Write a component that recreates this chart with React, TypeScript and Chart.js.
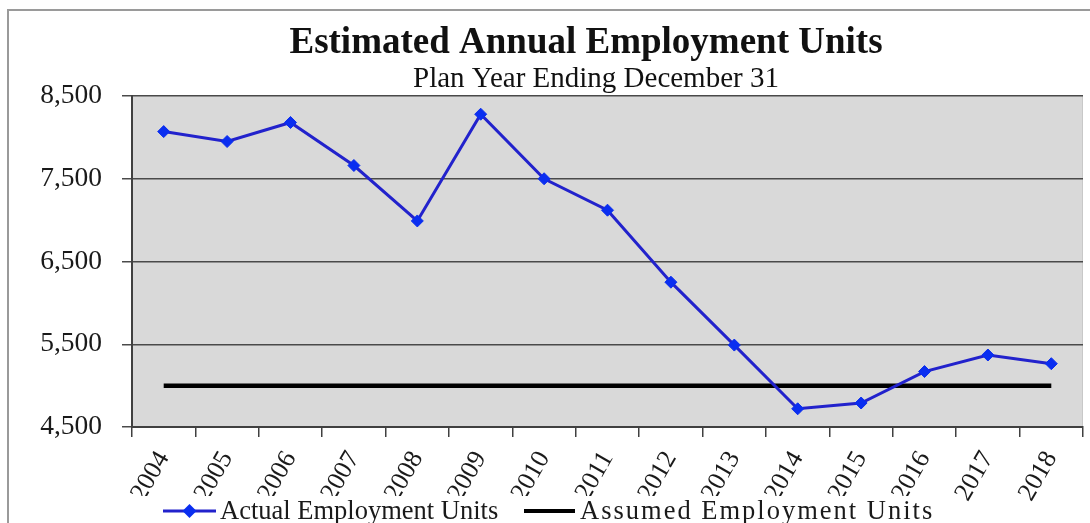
import React, { useEffect, useRef } from "react";
import { Chart, registerables } from "chart.js";

Chart.register(...registerables);

const years = ["2004", "2005", "2006", "2007", "2008", "2009", "2010", "2011", "2012", "2013", "2014", "2015", "2016", "2017", "2018"];
const actualUnits = [8070, 7950, 8180, 7660, 6990, 8280, 7500, 7120, 6250, 5490, 4720, 4790, 5170, 5370, 5265];
const assumedUnits = [5000, 5000, 5000, 5000, 5000, 5000, 5000, 5000, 5000, 5000, 5000, 5000, 5000, 5000, 5000];
const yTicks = [4500, 5500, 6500, 7500, 8500];
const chartTitle = "Estimated Annual Employment Units";
const chartSubtitle = "Plan Year Ending December 31";
const seriesNames = ["Actual Employment Units", "Assumed Employment Units"];

const SERIF = '"Liberation Serif", "Times New Roman", serif';
const BLUE_LINE = "#2222cc";
const BLUE_MARK = "#0a2ef0";

export default function App() {
  const ref = useRef<HTMLCanvasElement | null>(null);

  useEffect(() => {
    document.body.style.margin = "0";
    const canvas = ref.current;
    if (!canvas) return;

    const decor = {
      id: "decor",
      beforeDraw(chart: any) {
        const { ctx, chartArea } = chart;
        ctx.save();
        ctx.fillStyle = "#ffffff";
        ctx.fillRect(0, 0, chart.width, chart.height);
        ctx.fillStyle = "#d9d9d9";
        ctx.fillRect(chartArea.left, chartArea.top, chartArea.right - chartArea.left, chartArea.bottom - chartArea.top);
        ctx.strokeStyle = "#c8c8c8";
        ctx.lineWidth = 1;
        ctx.beginPath();
        ctx.moveTo(chartArea.right - 0.5, chartArea.top);
        ctx.lineTo(chartArea.right - 0.5, chartArea.bottom);
        ctx.stroke();
        ctx.restore();
      },
      afterDraw(chart: any) {
        const { ctx } = chart;
        ctx.save();
        // outer frame
        ctx.strokeStyle = "#9a9a9a";
        ctx.lineWidth = 2;
        ctx.beginPath();
        ctx.moveTo(8, chart.height);
        ctx.lineTo(8, 10);
        ctx.lineTo(chart.width, 10);
        ctx.stroke();
        // title
        ctx.fillStyle = "#111111";
        ctx.textAlign = "center";
        ctx.textBaseline = "alphabetic";
        ctx.font = `bold 37px ${SERIF}`;
        ctx.fillText(chartTitle, 586, 53);
        ctx.font = `29px ${SERIF}`;
        ctx.fillText(chartSubtitle, 596, 87);
        // legend
        ctx.fillStyle = "#ffffff";
        ctx.fillRect(95, 496, 862, 30);
        const ly = 511;
        ctx.strokeStyle = BLUE_LINE;
        ctx.lineWidth = 3;
        ctx.beginPath();
        ctx.moveTo(163, ly);
        ctx.lineTo(216, ly);
        ctx.stroke();
        ctx.fillStyle = BLUE_MARK;
        ctx.beginPath();
        ctx.moveTo(189.5, ly - 7);
        ctx.lineTo(196.5, ly);
        ctx.lineTo(189.5, ly + 7);
        ctx.lineTo(182.5, ly);
        ctx.closePath();
        ctx.fill();
        ctx.strokeStyle = "#000000";
        ctx.lineWidth = 4;
        ctx.beginPath();
        ctx.moveTo(524, ly);
        ctx.lineTo(575, ly);
        ctx.stroke();
        ctx.fillStyle = "#1a1a1a";
        ctx.textAlign = "left";
        ctx.textBaseline = "middle";
        ctx.font = `26.5px ${SERIF}`;
        ctx.fillText(seriesNames[0], 220, ly + 1);
        (ctx as any).letterSpacing = "2px";
        ctx.fillText(seriesNames[1], 580, ly + 1);
        (ctx as any).letterSpacing = "0px";
        ctx.restore();
      },
    };

    const chart = new Chart(canvas, {
      type: "line",
      data: {
        labels: years,
        datasets: [
          {
            label: seriesNames[0],
            data: actualUnits,
            borderColor: BLUE_LINE,
            backgroundColor: BLUE_MARK,
            borderWidth: 3,
            pointStyle: "rectRot",
            pointRadius: 6,
            pointBackgroundColor: BLUE_MARK,
            pointBorderColor: BLUE_MARK,
            pointBorderWidth: 1,
            tension: 0,
            order: 0,
          },
          {
            label: seriesNames[1],
            data: assumedUnits,
            borderColor: "#000000",
            backgroundColor: "#000000",
            borderWidth: 4.5,
            pointRadius: 0,
            tension: 0,
            order: 1,
          },
        ],
      },
      options: {
        animation: false,
        responsive: true,
        maintainAspectRatio: false,
        layout: { padding: { top: 96, right: 5, left: 0, bottom: 0 } },
        plugins: {
          legend: { display: false },
          title: { display: false },
          tooltip: { enabled: false },
        },
        scales: {
          x: {
            type: "category",
            offset: true,
            afterFit: (scale: any) => {
              scale.height = 96;
            },
            grid: {
              display: true,
              drawOnChartArea: false,
              drawTicks: true,
              tickLength: 10,
              color: "#404040",
              lineWidth: 1.5,
              offset: true,
            },
            border: { display: true, color: "#404040", width: 2 },
            ticks: {
              autoSkip: false,
              minRotation: 60,
              maxRotation: 60,
              padding: 9,
              color: "#1a1a1a",
              font: { family: SERIF, size: 26 },
            },
          },
          y: {
            type: "linear",
            min: 4500,
            max: 8500,
            afterBuildTicks: (scale: any) => {
              scale.ticks = yTicks.map((v) => ({ value: v }));
            },
            afterFit: (scale: any) => {
              scale.width = 132;
            },
            grid: {
              color: "#4a4a4a",
              lineWidth: 1.5,
              drawTicks: true,
              tickLength: 10,
            },
            border: { display: true, color: "#404040", width: 2 },
            ticks: {
              padding: 20,
              color: "#1a1a1a",
              font: { family: SERIF, size: 27.5 },
              callback: (v: any) => Number(v).toLocaleString("en-US"),
            },
          },
        },
      },
      plugins: [decor],
    });

    return () => chart.destroy();
  }, []);

  return (
    <div style={{ width: 1090, height: 523, position: "relative" }}>
      <canvas ref={ref} />
    </div>
  );
}
